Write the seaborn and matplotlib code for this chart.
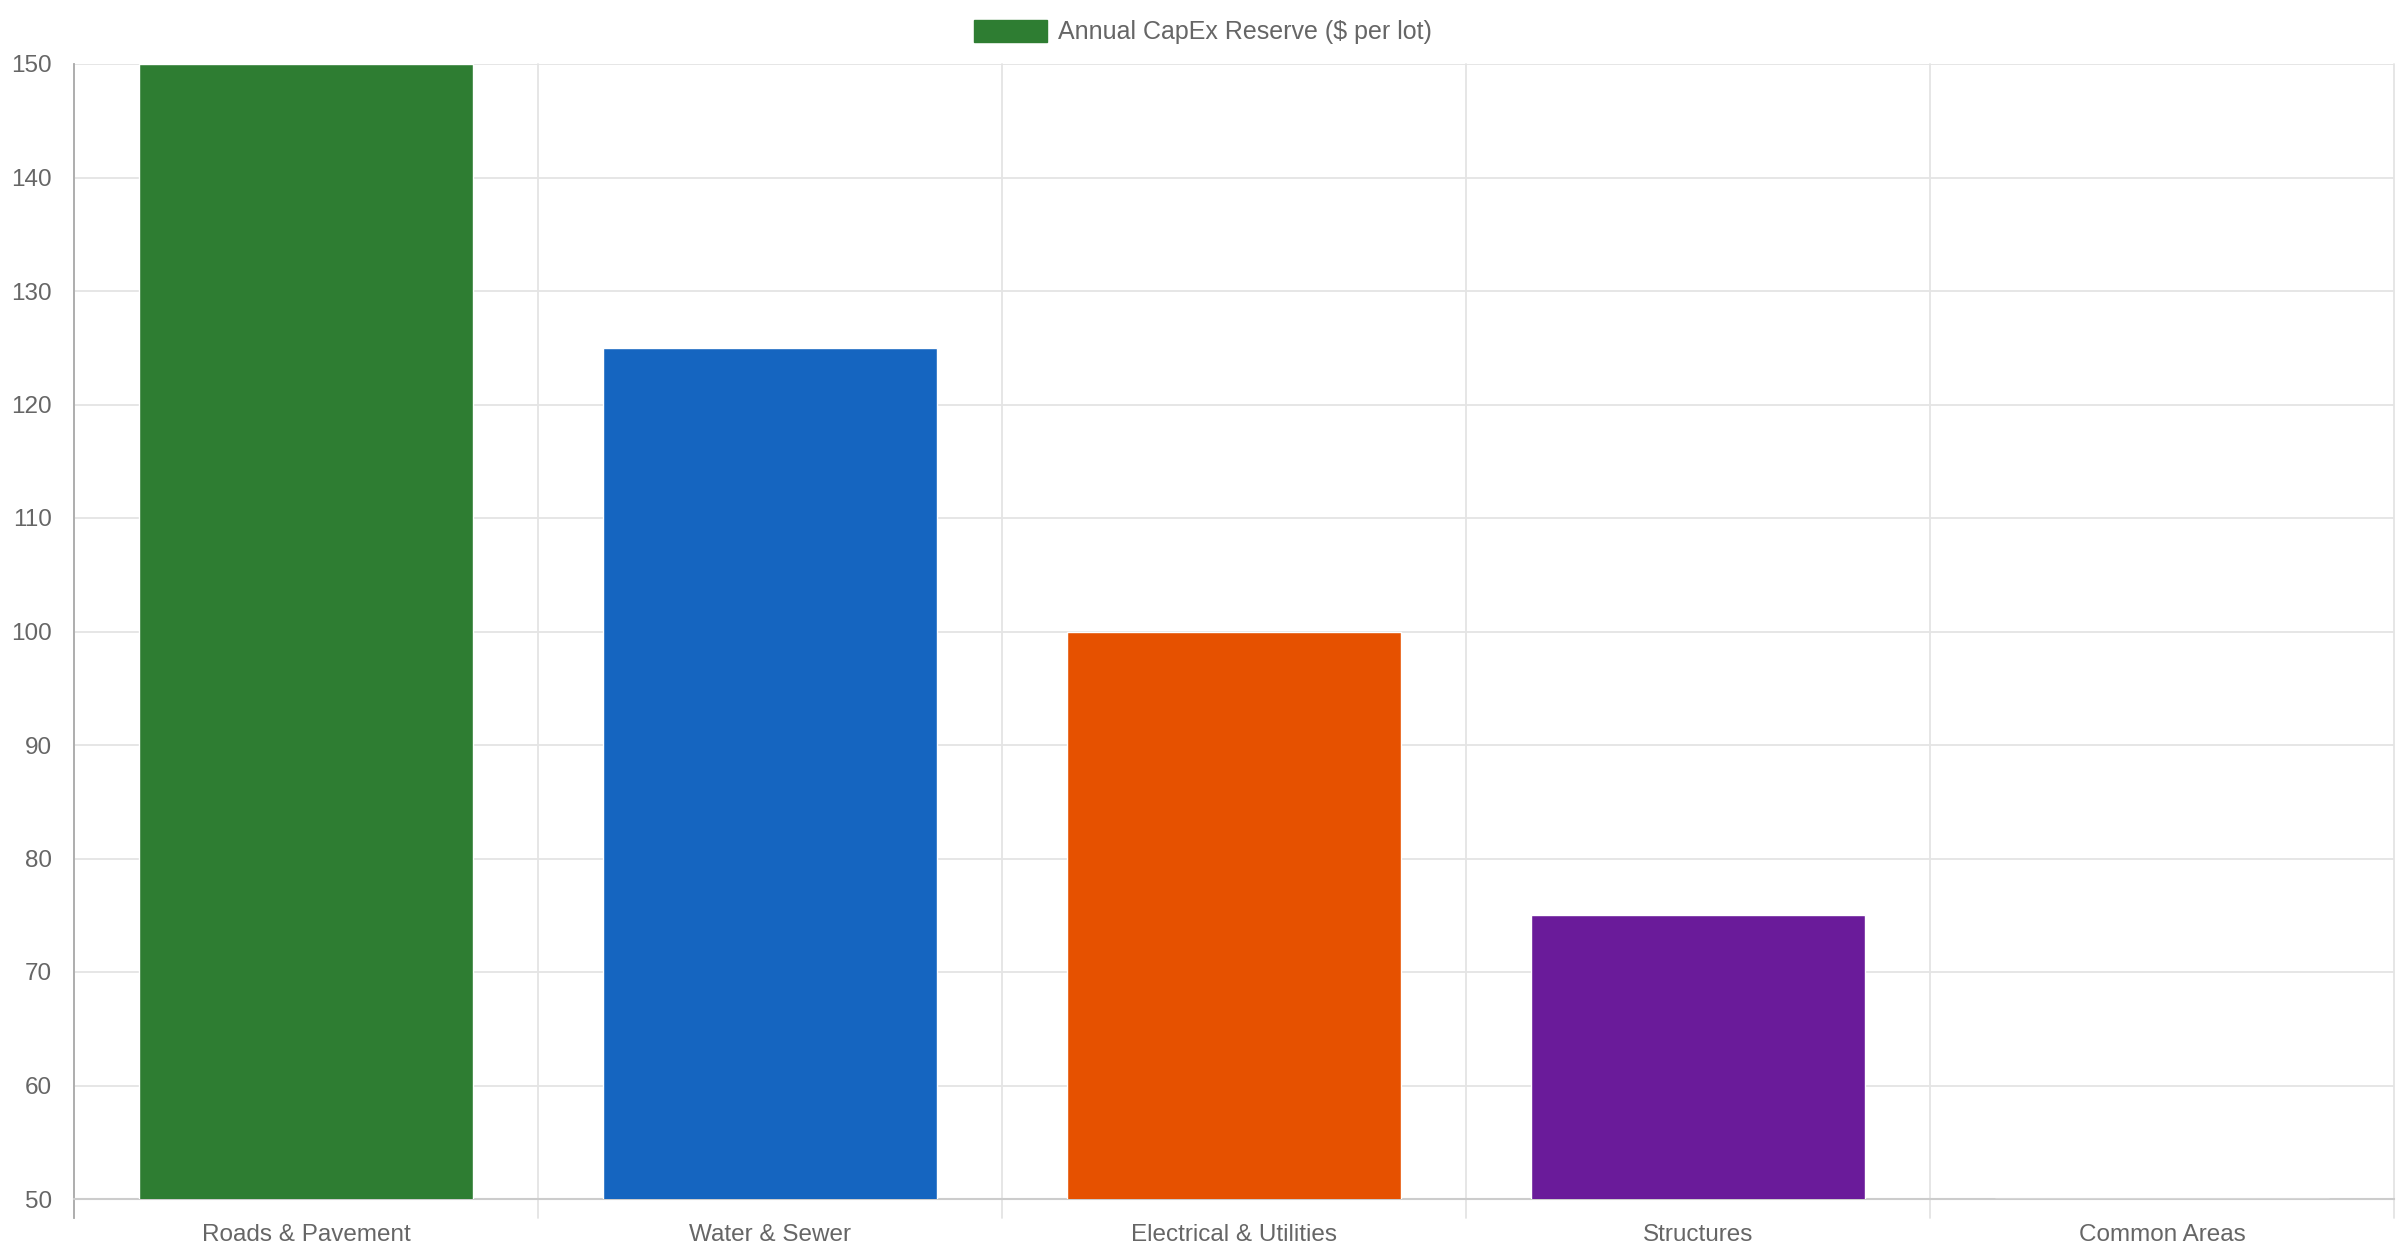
import pandas as pd
import matplotlib.pyplot as plt
import seaborn as sns
from matplotlib.patches import Patch

categories = ['Roads & Pavement', 'Water & Sewer', 'Electrical & Utilities', 'Structures', 'Common Areas']
reserve = [150, 125, 100, 75, 50]
colors = ['#2E7D32', '#1565C0', '#E65100', '#6A1B9A', '#00838F']
yticks = list(range(50, 151, 10))

sns.set_style('white')
plt.rcParams['font.family'] = ['Liberation Sans', 'DejaVu Sans']

df = pd.DataFrame({'Category': categories, 'Reserve': reserve})

fig = plt.figure(figsize=(24, 12.6), dpi=100)
ax = fig.add_axes([74 / 2400, 1 - 1199 / 1260, (2394 - 74) / 2400, (1199 - 64) / 1260])

sns.barplot(data=df, x='Category', y='Reserve', hue='Category', palette=colors,
            width=0.72, saturation=1, legend=False, ax=ax, zorder=3)

ax.set_ylim(50, 150)
ax.set_xlim(-0.5, len(categories) - 0.5)
ax.set_yticks(yticks)
ax.set_xlabel('')
ax.set_ylabel('')

# grid
for y in yticks:
    ax.axhline(y, color='#e4e4e4', lw=1.3, zorder=1)
for i in range(len(categories) + 1):
    x = i - 0.5
    ax.plot([x, x], [48.3, 150], color='#e4e4e4', lw=1.3, zorder=1, clip_on=False)

for s in ['top', 'right']:
    ax.spines[s].set_visible(False)
ax.spines['left'].set_color('#aaaaaa')
ax.spines['left'].set_linewidth(1.3)
ax.spines['bottom'].set_color('#cccccc')
ax.spines['bottom'].set_linewidth(1.5)
ax.spines['left'].set_bounds(48.3, 150)

ax.tick_params(axis='y', length=15, color='#e4e4e4', width=1.3, colors='#666666',
               labelsize=17.5, pad=1)
ax.tick_params(axis='x', length=0, colors='#666666', labelsize=17.5, pad=18)

handles = [Patch(facecolor=colors[0], edgecolor=colors[0])]
fig.legend(handles, ['Annual CapEx Reserve ($ per lot)'], loc='center',
           bbox_to_anchor=(1203 / 2400, 1 - 32 / 1260), frameon=False,
           fontsize=18, labelcolor='#666666', handlelength=2.9, handleheight=1.0,
           handletextpad=0.45)

fig.savefig('out.png', dpi=100, facecolor='white')
